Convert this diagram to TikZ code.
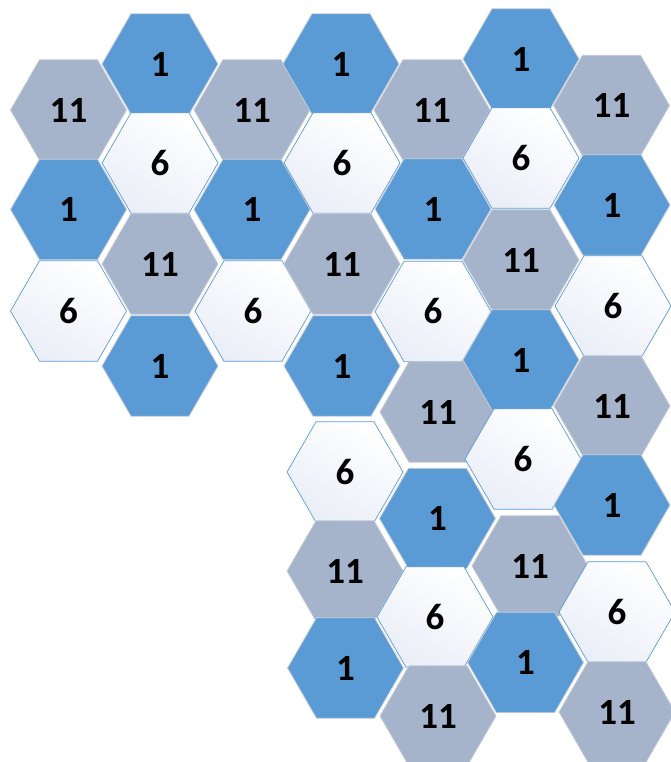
\documentclass[tikz,border=0pt]{standalone}
\usepackage{fontspec}
\setmainfont{Carlito}
\definecolor{hexblue}{RGB}{91,155,213}
\definecolor{hexgray}{RGB}{165,180,203}
\definecolor{hexedge}{RGB}{198,204,214}
\definecolor{hextop}{RGB}{234,238,247}
\usetikzlibrary{shapes.geometric}

\begin{document}
\begin{tikzpicture}[x=1pt, y=-1pt,
    hex/.style={regular polygon, regular polygon sides=6, minimum size=116pt, inner sep=0pt,
        font=\fontsize{37}{42}\selectfont\bfseries, text=black},
    bluehex/.style={hex, fill=hexblue, draw=hexedge, line width=0.8pt},
    grayhex/.style={hex, fill=hexgray, draw=hexedge, line width=0.8pt},
    whitehex/.style={hex, top color=hextop, bottom color=white, shading angle=150, draw=hexblue, line width=0.7pt}
]
    \useasboundingbox (0,0) rectangle (670,762);

    \node[grayhex] (a1) at (68.5,110) {11};
    \node[bluehex] (a2) at (68.5,209.5) {1};
    \node[whitehex] (a3) at (68.5,311) {6};

    \node[bluehex] (b1) at (160,64) {1};
    \node[whitehex] (b2) at (160,163) {6};
    \node[grayhex] (b3) at (160,264) {11};
    \node[bluehex] (b4) at (160,366) {1};

    \node[grayhex] (c1) at (252,110) {11};
    \node[bluehex] (c2) at (252,209.5) {1};
    \node[whitehex] (c3) at (253,311) {6};

    \node[bluehex] (d1) at (341,64) {1};
    \node[whitehex] (d2) at (342,163) {6};
    \node[grayhex] (d3) at (342,264) {11};
    \node[bluehex] (d4) at (342,366) {1};
    \node[whitehex] (d5) at (345,472) {6};
    \node[grayhex] (d6) at (345,571) {11};
    \node[bluehex] (d7) at (345.5,668) {1};

    \node[grayhex] (e1) at (432,110) {11};
    \node[bluehex] (e2) at (433,209) {1};
    \node[whitehex] (e3) at (433,311.5) {6};
    \node[grayhex] (e4) at (438,412) {11};
    \node[bluehex] (e5) at (437.5,518.5) {1};
    \node[whitehex] (e6) at (435,617) {6};
    \node[grayhex] (e7) at (438,716) {11};

    \node[bluehex] (f1) at (521,59) {1};
    \node[whitehex] (f2) at (521,158) {6};
    \node[grayhex] (f3) at (521,260) {11};
    \node[bluehex] (f4) at (521,360) {1};
    \node[whitehex] (f5) at (523,459) {6};
    \node[grayhex] (f6) at (530,566) {11};
    \node[bluehex] (f7) at (525.5,662.5) {1};

    \node[grayhex] (g1) at (611.5,105.5) {11};
    \node[bluehex] (g2) at (612,205) {1};
    \node[whitehex] (g3) at (613,306) {6};
    \node[grayhex] (g4) at (612,406) {11};
    \node[bluehex] (g5) at (612,505) {1};
    \node[whitehex] (g6) at (617,612) {6};
    \node[grayhex] (g7) at (617,712) {11};
\end{tikzpicture}
\end{document}
